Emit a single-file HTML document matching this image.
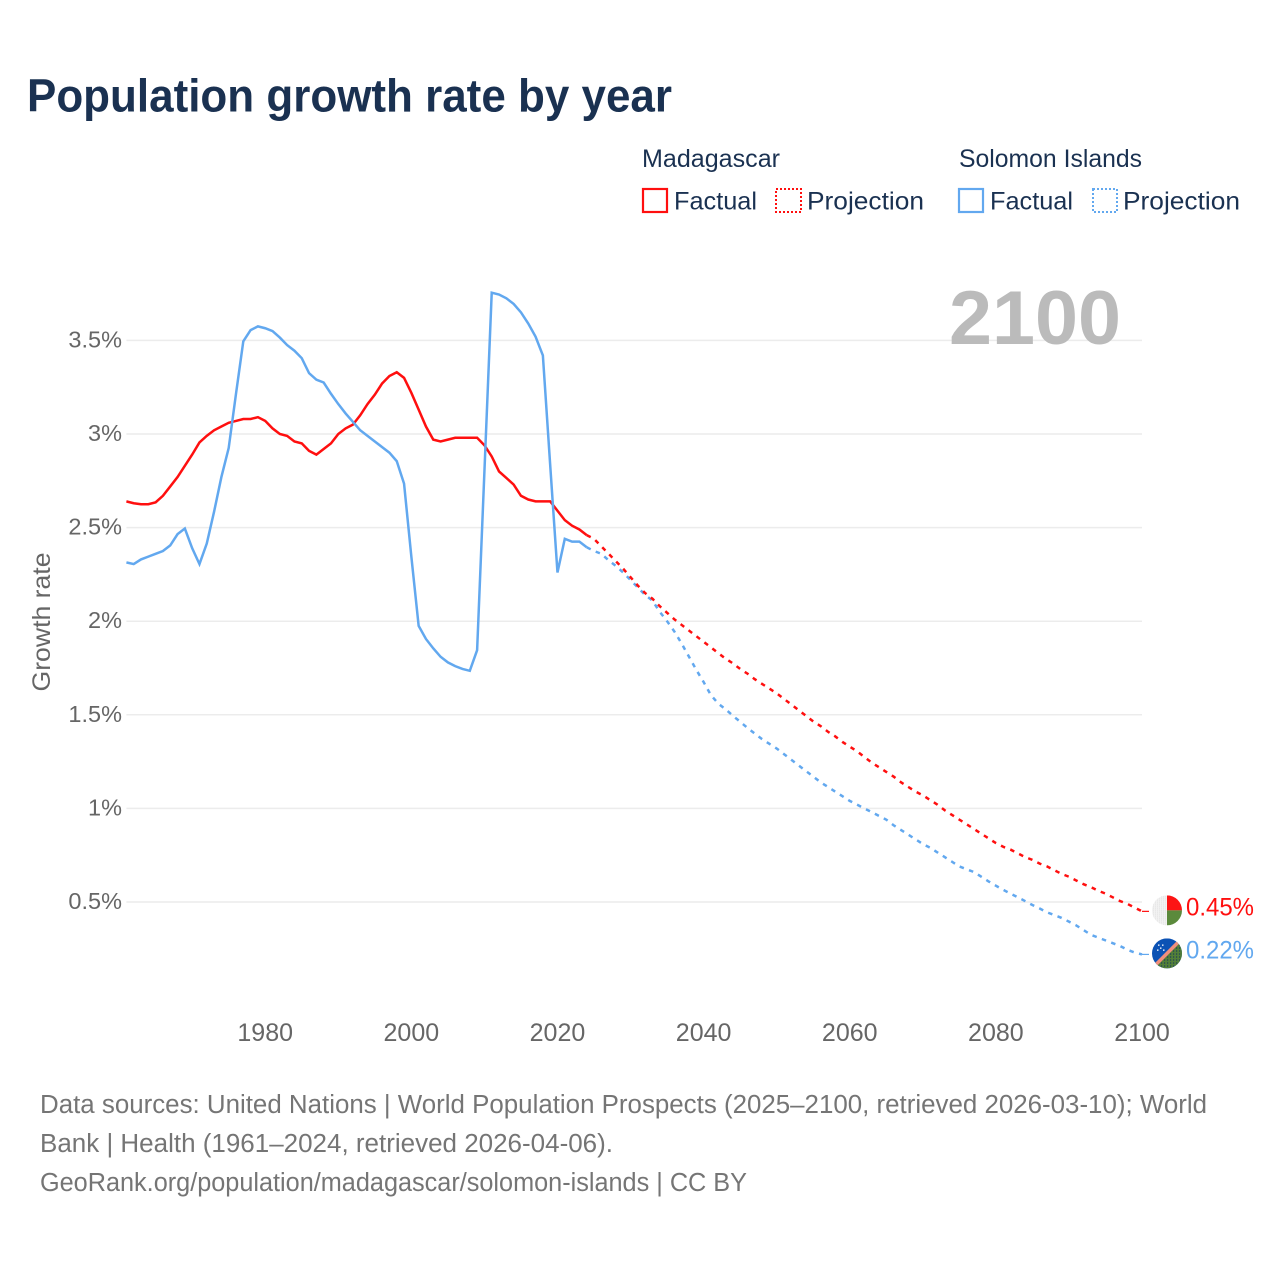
<!DOCTYPE html>
<html lang="en">
<head>
<meta charset="utf-8">
<title>Population growth rate by year</title>
<style>
html,body{margin:0;padding:0;background:#fff;}
body{width:1280px;height:1280px;overflow:hidden;}
svg{display:block;}
text{font-family:"Liberation Sans",sans-serif;}
.navy{fill:#1a3151;}
.legend{font-size:25px;}
.foot{font-size:25.5px;fill:#757575;}
.tick{font-size:23.5px;fill:#666;}
</style>
</head>
<body>
<svg id="chart" width="1280" height="1280" viewBox="0 0 1280 1280" xmlns="http://www.w3.org/2000/svg">
  <defs>
    <clipPath id="flag-clip-a"><circle cx="0" cy="0" r="15"/></clipPath>
    <clipPath id="flag-clip-b"><circle cx="0" cy="0" r="15"/></clipPath>
    <pattern id="dots" width="3" height="3" patternUnits="userSpaceOnUse"><rect width="1.2" height="1.2" fill="#1a3b5c"/></pattern>
    <pattern id="wdots" width="2" height="2" patternUnits="userSpaceOnUse"><rect width="1" height="1" fill="#e2e2e2"/></pattern>
  </defs>

  <text class="navy" x="27" y="111.5" font-size="46" font-weight="700" textLength="645" lengthAdjust="spacingAndGlyphs">Population growth rate by year</text>

  <g>
    <text class="navy legend" x="642" y="167" textLength="138" lengthAdjust="spacingAndGlyphs">Madagascar</text>
    <text class="navy legend" x="959" y="167" textLength="183" lengthAdjust="spacingAndGlyphs">Solomon Islands</text>
    <rect x="643" y="189" width="24" height="23" fill="none" stroke="#ff0f0f" stroke-width="2.2"/>
    <text class="navy legend" x="674" y="209.5" textLength="83" lengthAdjust="spacingAndGlyphs">Factual</text>
    <rect x="776" y="189" width="25" height="23" fill="none" stroke="#ff0f0f" stroke-width="2" stroke-dasharray="2 2"/>
    <text class="navy legend" x="807" y="209.5" textLength="117" lengthAdjust="spacingAndGlyphs">Projection</text>
    <rect x="959" y="189" width="24" height="23" fill="none" stroke="#62a8ef" stroke-width="2.2"/>
    <text class="navy legend" x="990" y="209.5" textLength="83" lengthAdjust="spacingAndGlyphs">Factual</text>
    <rect x="1093" y="189" width="24" height="23" fill="none" stroke="#62a8ef" stroke-width="2" stroke-dasharray="2 2"/>
    <text class="navy legend" x="1123" y="209.5" textLength="117" lengthAdjust="spacingAndGlyphs">Projection</text>
  </g>

  <g id="grid"></g>
  <text x="949" y="344" font-size="76" font-weight="700" fill="#bbbbbb" textLength="172" lengthAdjust="spacingAndGlyphs">2100</text>
  <g id="y-ticks"></g>
  <g id="x-ticks"></g>
  <text transform="translate(50,622) rotate(-90)" text-anchor="middle" font-size="25" fill="#666" textLength="139" lengthAdjust="spacingAndGlyphs">Growth rate</text>

  <g id="series"></g>

  <g id="flag-madagascar">
    <g clip-path="url(#flag-clip-a)">
      <rect x="-15" y="-15" width="15" height="30" fill="#f2f2f2"/>
      <rect x="-15" y="-15" width="15" height="30" fill="url(#wdots)"/>
      <rect x="0" y="-15" width="15" height="15" fill="#fc1414"/>
      <rect x="0" y="0" width="15" height="15" fill="#5b8a3c"/>
    </g>
  </g>
  <g id="flag-solomon">
    <g clip-path="url(#flag-clip-b)">
      <rect x="-15" y="-15" width="30" height="30" fill="#0b52b4"/>
      <polygon points="15,-15 15,15 -15,15" fill="#527f38"/>
      <polygon points="15,-15 15,15 -15,15" fill="url(#dots)"/>
      <line x1="-14" y1="14" x2="14" y2="-14" stroke="#f08f7c" stroke-width="3.5"/>
      <g fill="#dfe9f7"><rect x="-9" y="-9" width="1.5" height="1.5"/><rect x="-5" y="-9" width="1.5" height="1.5"/><rect x="-7" y="-6" width="1.5" height="1.5"/><rect x="-10" y="-4" width="1.5" height="1.5"/><rect x="-4" y="-4" width="1.5" height="1.5"/></g>
    </g>
  </g>
  <g id="end-labels"></g>

  <g>
    <text class="foot" x="40" y="1113" textLength="1167" lengthAdjust="spacingAndGlyphs">Data sources: United Nations | World Population Prospects (2025–2100, retrieved 2026-03-10); World</text>
    <text class="foot" x="40" y="1152" textLength="573" lengthAdjust="spacingAndGlyphs">Bank | Health (1961–2024, retrieved 2026-04-06).</text>
    <text class="foot" x="40" y="1191" textLength="707" lengthAdjust="spacingAndGlyphs">GeoRank.org/population/madagascar/solomon-islands | CC BY</text>
  </g>
</svg>

<script>
const factualStartYear = 1961;
const projectionStartYear = 2024;
const xTickYears = [1980, 2000, 2020, 2040, 2060, 2080, 2100];
const yTickValues = [0.5, 1, 1.5, 2, 2.5, 3, 3.5];
const yTickLabels = ['0.5%', '1%', '1.5%', '2%', '2.5%', '3%', '3.5%'];

const madagascarFactual = [2.64,2.63,2.625,2.625,2.635,2.67,2.72,2.77,2.83,2.89,2.955,2.99,3.02,3.04,3.06,3.07,3.08,3.08,3.09,3.07,3.03,3.00,2.99,2.96,2.95,2.91,2.89,2.92,2.95,3.0,3.03,3.05,3.10,3.16,3.21,3.27,3.31,3.33,3.30,3.22,3.13,3.04,2.97,2.96,2.97,2.98,2.98,2.98,2.98,2.94,2.88,2.80,2.765,2.73,2.67,2.65,2.64,2.64,2.64,2.59,2.54,2.51,2.49,2.46];
const solomonFactual = [2.314,2.305,2.33,2.345,2.36,2.375,2.405,2.465,2.495,2.39,2.305,2.415,2.585,2.77,2.925,3.215,3.495,3.555,3.575,3.565,3.55,3.515,3.475,3.445,3.405,3.325,3.29,3.275,3.215,3.16,3.11,3.065,3.02,2.99,2.96,2.93,2.90,2.855,2.735,2.345,1.975,1.905,1.855,1.81,1.78,1.76,1.745,1.735,1.845,2.80,3.755,3.745,3.725,3.695,3.65,3.59,3.52,3.42,2.835,2.26,2.44,2.425,2.425,2.395];
const madagascarProjection = [2.46,2.44,2.40,2.36,2.32,2.28,2.235,2.19,2.15,2.12,2.08,2.045,2.01,1.98,1.95,1.92,1.89,1.86,1.83,1.80,1.775,1.745,1.72,1.69,1.665,1.64,1.615,1.585,1.555,1.525,1.495,1.465,1.44,1.41,1.385,1.355,1.33,1.305,1.275,1.245,1.22,1.195,1.17,1.14,1.115,1.09,1.07,1.045,1.02,0.99,0.965,0.94,0.915,0.89,0.865,0.84,0.815,0.795,0.78,0.76,0.74,0.725,0.705,0.69,0.67,0.65,0.635,0.615,0.595,0.58,0.56,0.545,0.525,0.505,0.49,0.47,0.45];
const solomonProjection = [2.395,2.375,2.36,2.325,2.295,2.26,2.22,2.18,2.14,2.11,2.05,2.0,1.945,1.88,1.81,1.74,1.675,1.605,1.56,1.53,1.495,1.463,1.43,1.40,1.37,1.345,1.32,1.29,1.26,1.23,1.2,1.17,1.14,1.115,1.09,1.065,1.04,1.02,1.0,0.98,0.96,0.94,0.91,0.885,0.86,0.835,0.81,0.79,0.765,0.74,0.715,0.69,0.675,0.66,0.635,0.61,0.587,0.565,0.545,0.525,0.505,0.484,0.465,0.445,0.43,0.415,0.395,0.375,0.35,0.325,0.31,0.295,0.28,0.265,0.245,0.23,0.22];

const SVG_NS = 'http://www.w3.org/2000/svg';
const RED = '#ff0f0f';
const BLUE = '#62a8ef';

function xScale(year) { return 126.4 + (year - 1961) * (1142 - 126.4) / (2100 - 1961); }
function yScale(value) { return 902 - (value - 0.5) * 187.2; }
function make(tag, parent) {
  const el = document.createElementNS(SVG_NS, tag);
  parent.appendChild(el);
  return el;
}
function pathFrom(values, startYear) {
  return values.map(function (v, i) {
    return (i ? 'L' : 'M') + xScale(startYear + i).toFixed(2) + ' ' + yScale(v).toFixed(2);
  }).join(' ');
}

const gridGroup = document.getElementById('grid');
const yTickGroup = document.getElementById('y-ticks');
yTickValues.forEach(function (v, i) {
  const line = make('line', gridGroup);
  
  
  line.setAttribute('x1', xScale(1961));
  line.setAttribute('x2', xScale(2100));
  line.setAttribute('y1', yScale(v));
  line.setAttribute('y2', yScale(v));
  line.setAttribute('stroke', '#ececec');
  line.setAttribute('stroke-width', '1.5');
  const label = make('text', yTickGroup);
  
  
  label.setAttribute('class', 'tick');
  label.setAttribute('x', 122);
  label.setAttribute('y', yScale(v) + 7);
  label.setAttribute('text-anchor', 'end');
  label.textContent = yTickLabels[i];
});

const xTickGroup = document.getElementById('x-ticks');
xTickYears.forEach(function (year) {
  const label = make('text', xTickGroup);
  
  
  label.setAttribute('class', 'tick');
  label.setAttribute('x', xScale(year));
  label.setAttribute('y', 1041);
  label.setAttribute('text-anchor', 'middle');
  label.setAttribute('style', 'font-size:25px');
  label.textContent = String(year);
});

const seriesGroup = document.getElementById('series');

const madagascarLine = make('path', seriesGroup);


madagascarLine.setAttribute('d', pathFrom(madagascarFactual, factualStartYear));
madagascarLine.setAttribute('fill', 'none');
madagascarLine.setAttribute('stroke', RED);
madagascarLine.setAttribute('stroke-width', '2.5');

const solomonLine = make('path', seriesGroup);


solomonLine.setAttribute('d', pathFrom(solomonFactual, factualStartYear));
solomonLine.setAttribute('fill', 'none');
solomonLine.setAttribute('stroke', BLUE);
solomonLine.setAttribute('stroke-width', '2.5');

const solomonDash = make('path', seriesGroup);


solomonDash.setAttribute('d', pathFrom(solomonProjection, projectionStartYear));
solomonDash.setAttribute('fill', 'none');
solomonDash.setAttribute('stroke', BLUE);
solomonDash.setAttribute('stroke-width', '2.5');
solomonDash.setAttribute('stroke-dasharray', '4.5 5.5');

const madagascarDash = make('path', seriesGroup);


madagascarDash.setAttribute('d', pathFrom(madagascarProjection, projectionStartYear));
madagascarDash.setAttribute('fill', 'none');
madagascarDash.setAttribute('stroke', RED);
madagascarDash.setAttribute('stroke-width', '2.5');
madagascarDash.setAttribute('stroke-dasharray', '4.5 5.5');

const madagascarEnd = madagascarProjection[madagascarProjection.length - 1];
const solomonEnd = solomonProjection[solomonProjection.length - 1];

const madagascarConnector = make('line', seriesGroup);


madagascarConnector.setAttribute('x1', xScale(2100));
madagascarConnector.setAttribute('x2', 1149);
madagascarConnector.setAttribute('y1', yScale(madagascarEnd));
madagascarConnector.setAttribute('y2', yScale(madagascarEnd));
madagascarConnector.setAttribute('stroke', RED);
madagascarConnector.setAttribute('stroke-width', '1.2');

const solomonConnector = make('line', seriesGroup);


solomonConnector.setAttribute('x1', xScale(2100));
solomonConnector.setAttribute('x2', 1149);
solomonConnector.setAttribute('y1', yScale(solomonEnd));
solomonConnector.setAttribute('y2', yScale(solomonEnd));
solomonConnector.setAttribute('stroke', BLUE);
solomonConnector.setAttribute('stroke-width', '1.2');

document.getElementById('flag-madagascar').setAttribute('transform', 'translate(1167,' + (yScale(madagascarEnd) - 1) + ')');
document.getElementById('flag-solomon').setAttribute('transform', 'translate(1167,' + (yScale(solomonEnd) - 1) + ')');

const labelGroup = document.getElementById('end-labels');

const madagascarLabel = make('text', labelGroup);


madagascarLabel.setAttribute('x', 1186);
madagascarLabel.setAttribute('y', yScale(madagascarEnd) + 4);
madagascarLabel.setAttribute('font-size', '25');
madagascarLabel.setAttribute('fill', RED);
madagascarLabel.setAttribute('textLength', '68');
madagascarLabel.setAttribute('lengthAdjust', 'spacingAndGlyphs');
madagascarLabel.textContent = madagascarEnd.toFixed(2) + '%';

const solomonLabel = make('text', labelGroup);


solomonLabel.setAttribute('x', 1186);
solomonLabel.setAttribute('y', yScale(solomonEnd) + 4);
solomonLabel.setAttribute('font-size', '25');
solomonLabel.setAttribute('fill', BLUE);
solomonLabel.setAttribute('textLength', '68');
solomonLabel.setAttribute('lengthAdjust', 'spacingAndGlyphs');
solomonLabel.textContent = solomonEnd.toFixed(2) + '%';
</script>
</body>
</html>
